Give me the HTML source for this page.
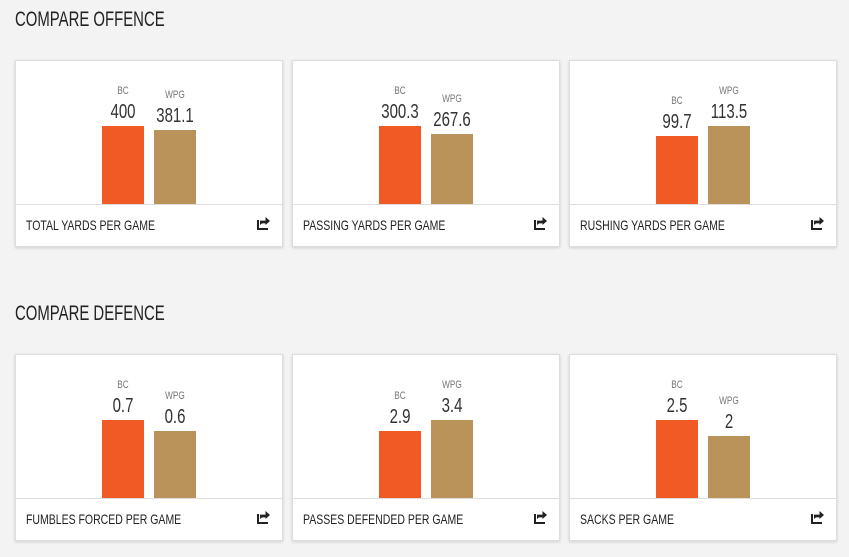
<!DOCTYPE html>
<html><head><meta charset="utf-8"><style>
body{margin:0;width:849px;height:557px;background:#f3f3f3;font-family:"Liberation Sans",sans-serif;position:relative;overflow:hidden;color:#222}
h2{position:absolute;left:15px;margin:0;font-weight:normal;font-size:21px;color:#222;transform:scaleX(0.71);transform-origin:0 0;white-space:nowrap}
.card{position:absolute;width:266px;height:185px;background:#fff;border:1px solid #ddd;box-shadow:0 1px 3px rgba(0,0,0,.15)}
.div{position:absolute;left:0;right:0;top:143px;border-top:1px solid #ddd}
.t{position:absolute;left:10px;top:156px;font-size:14px;color:#222;transform:scaleX(0.75);transform-origin:0 0;white-space:nowrap}
.ic{position:absolute;right:14px;top:159px;width:9px;height:8px;border:2px solid #222;border-top:none;border-right:none}
.ic:after{content:"";position:absolute;left:1px;top:-3px;width:10px;height:8px;background:#222;clip-path:polygon(0 100%,0 45%,55% 45%,55% 0,100% 50%,55% 100%,55% 80%,20% 80%)}
.bar{position:absolute;width:42px;bottom:41px}
.bc{background:#f15a24;left:86px}.wp{background:#b99359;left:138px}
.lab{position:absolute;width:60px;text-align:center;font-size:11px;color:#777;transform:scaleX(0.75)}
.val{position:absolute;width:80px;text-align:center;font-size:20px;color:#333;transform:scaleX(0.75)}
</style></head><body>
<h2 style="top:8px">COMPARE OFFENCE</h2>
<h2 style="top:302px">COMPARE DEFENCE</h2>

<div class="card" style="left:15px;top:60px">
<div class="bar bc" style="top:65px"></div><div class="bar wp" style="top:69px"></div>
<div class="lab" style="left:77px;top:24px">BC</div><div class="val" style="left:67px;top:40px">400</div>
<div class="lab" style="left:129px;top:28px">WPG</div><div class="val" style="left:119px;top:44px">381.1</div>
<div class="div"></div><div class="t">TOTAL YARDS PER GAME</div><div class="ic"></div></div>

<div class="card" style="left:292px;top:60px">
<div class="bar bc" style="top:65px"></div><div class="bar wp" style="top:73px"></div>
<div class="lab" style="left:77px;top:24px">BC</div><div class="val" style="left:67px;top:40px">300.3</div>
<div class="lab" style="left:129px;top:32px">WPG</div><div class="val" style="left:119px;top:48px">267.6</div>
<div class="div"></div><div class="t">PASSING YARDS PER GAME</div><div class="ic"></div></div>

<div class="card" style="left:569px;top:60px">
<div class="bar bc" style="top:75px"></div><div class="bar wp" style="top:65px"></div>
<div class="lab" style="left:77px;top:34px">BC</div><div class="val" style="left:67px;top:50px">99.7</div>
<div class="lab" style="left:129px;top:24px">WPG</div><div class="val" style="left:119px;top:40px">113.5</div>
<div class="div"></div><div class="t">RUSHING YARDS PER GAME</div><div class="ic"></div></div>

<div class="card" style="left:15px;top:354px">
<div class="bar bc" style="top:65px"></div><div class="bar wp" style="top:76px"></div>
<div class="lab" style="left:77px;top:24px">BC</div><div class="val" style="left:67px;top:40px">0.7</div>
<div class="lab" style="left:129px;top:35px">WPG</div><div class="val" style="left:119px;top:51px">0.6</div>
<div class="div"></div><div class="t">FUMBLES FORCED PER GAME</div><div class="ic"></div></div>

<div class="card" style="left:292px;top:354px">
<div class="bar bc" style="top:76px"></div><div class="bar wp" style="top:65px"></div>
<div class="lab" style="left:77px;top:35px">BC</div><div class="val" style="left:67px;top:51px">2.9</div>
<div class="lab" style="left:129px;top:24px">WPG</div><div class="val" style="left:119px;top:40px">3.4</div>
<div class="div"></div><div class="t">PASSES DEFENDED PER GAME</div><div class="ic"></div></div>

<div class="card" style="left:569px;top:354px">
<div class="bar bc" style="top:65px"></div><div class="bar wp" style="top:81px"></div>
<div class="lab" style="left:77px;top:24px">BC</div><div class="val" style="left:67px;top:40px">2.5</div>
<div class="lab" style="left:129px;top:40px">WPG</div><div class="val" style="left:119px;top:56px">2</div>
<div class="div"></div><div class="t">SACKS PER GAME</div><div class="ic"></div></div>
</body></html>
